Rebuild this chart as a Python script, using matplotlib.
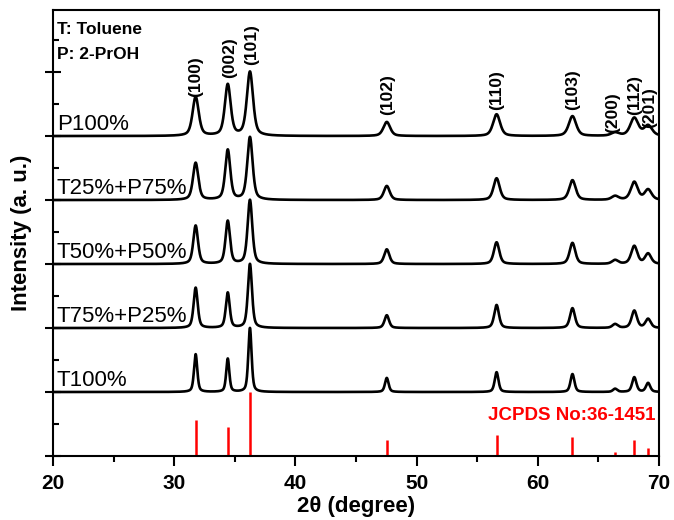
import numpy as np
import matplotlib
matplotlib.use("Agg")
import matplotlib.pyplot as plt
from matplotlib.ticker import MultipleLocator

plt.rcParams['font.family'] = ['Liberation Sans', 'DejaVu Sans']

# ---- data ----
peak_pos = [31.77, 34.42, 36.25, 47.54, 56.60, 62.86, 66.38, 67.96, 69.10]
hkl = ['(100)', '(002)', '(101)', '(102)', '(110)', '(103)', '(200)', '(112)', '(201)']
jcpds_int = [0.57, 0.45, 1.0, 0.25, 0.33, 0.30, 0.06, 0.25, 0.12]

series_names = ['T100%', 'T75%+P25%', 'T50%+P50%', 'T25%+P75%', 'P100%']
h_T100 = [0.59, 0.52, 1.0, 0.22, 0.31, 0.28, 0.05, 0.23, 0.14]
h_T75P25 = [0.63, 0.55, 1.0, 0.20, 0.36, 0.31, 0.06, 0.27, 0.14]
h_T50P50 = [0.60, 0.67, 1.0, 0.23, 0.34, 0.33, 0.06, 0.28, 0.16]
h_T25P75 = [0.58, 0.78, 0.98, 0.22, 0.34, 0.31, 0.06, 0.28, 0.16]
h_P100 = [0.61, 0.80, 1.0, 0.22, 0.34, 0.31, 0.05, 0.28, 0.16]
series_heights = [h_T100, h_T75P25, h_T50P50, h_T25P75, h_P100]
series_fwhm = [0.32, 0.40, 0.46, 0.52, 0.60]
peak_width_factor = [1.0, 0.95, 1.0, 1.1, 1.15, 1.2, 1.3, 1.3, 1.3]

# label anchors (x, bottom y) for Miller indices
hkl_x = [31.77, 34.6, 36.4, 47.6, 56.6, 62.9, 66.2, 68.0, 69.25]
hkl_y = [5.61, 5.90, 6.11, 5.33, 5.41, 5.41, 5.05, 5.33, 5.12]

x = np.linspace(20, 70, 5001)


def profile(x, pos, heights, fwhm):
    y = np.zeros_like(x)
    eta = 0.5
    for p, h, f in zip(pos, heights, peak_width_factor):
        w = fwhm * f
        lor = 1.0 / (1.0 + ((x - p) / (w / 2)) ** 2)
        gau = np.exp(-4 * np.log(2) * ((x - p) / w) ** 2)
        y += h * (eta * lor + (1 - eta) * gau)
    return y


fig = plt.figure(figsize=(6.74, 5.2), dpi=100)
ax = fig.add_axes([53 / 674, 64 / 520, 606 / 674, 446 / 520])

for i, (name, hts, fw) in enumerate(zip(series_names, series_heights, series_fwhm)):
    base = i + 1
    ax.plot(x, base + profile(x, peak_pos, hts, fw), color='black', lw=1.9,
            solid_joinstyle='round')
    ax.text(20.33, base + 0.09, name, fontsize=16, ha='left', va='baseline')

ax.vlines(peak_pos, 0, jcpds_int, colors='red', lw=1.8)
ax.text(69.67, 0.64, 'JCPDS No:36-1451', color='red', fontsize=13.5,
        fontweight='bold', ha='right', va='center')

for lbl, lx, ly in zip(hkl, hkl_x, hkl_y):
    ax.text(lx, ly, lbl, rotation=90, fontsize=12.5, fontweight='bold',
            ha='center', va='bottom')

ax.text(20.33, 6.67, 'T: Toluene', fontsize=12.5, fontweight='bold', ha='left', va='center')
ax.text(20.33, 6.27, 'P: 2-PrOH', fontsize=12.5, fontweight='bold', ha='left', va='center')

ax.set_xlim(20, 70)
ax.set_ylim(0, 6.97)
ax.xaxis.set_major_locator(MultipleLocator(10))
ax.xaxis.set_minor_locator(MultipleLocator(5))
ax.yaxis.set_major_locator(MultipleLocator(1))
ax.yaxis.set_minor_locator(MultipleLocator(0.5))
ax.set_yticklabels([])
ax.tick_params(axis='x', which='major', direction='out', length=7, width=1.5,
               labelsize=15, pad=6)
ax.tick_params(axis='x', which='minor', direction='out', length=4, width=1.5)
ax.tick_params(axis='y', which='major', direction='inout', length=11, width=1.5)
ax.tick_params(axis='y', which='minor', direction='in', length=4, width=1.5)
for lab in ax.get_xticklabels():
    lab.set_fontweight('bold')
for s in ax.spines.values():
    s.set_linewidth(1.5)

ax.set_xlabel('2θ (degree)', fontsize=16, fontweight='bold', labelpad=2)
ax.set_ylabel('Intensity (a. u.)', fontsize=16, fontweight='bold', labelpad=6)

fig.savefig('out.png', dpi=100)
